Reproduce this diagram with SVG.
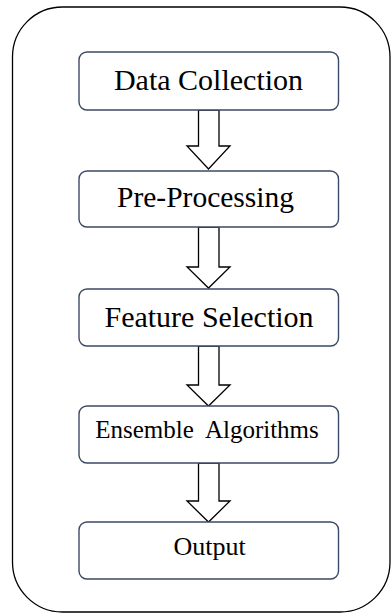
<svg xmlns="http://www.w3.org/2000/svg" width="391" height="615" viewBox="0 0 391 615">
<style>
.frame{fill:#fff;stroke:#000;stroke-width:1.3}
.box{fill:#fff;stroke:#3b4a66;stroke-width:1.4}
.arrow{fill:#fff;stroke:#000;stroke-width:1.3;stroke-linejoin:miter}
text{font-family:"Liberation Serif","Times New Roman",serif;fill:#000;text-anchor:middle}
</style>
<rect width="391" height="615" fill="#fff"/>
<rect class="frame" x="12.5" y="7" width="377.5" height="605" rx="50" ry="50"/>
<g id="connectors">
<polygon class="arrow" points="198.5,110 219,110 219,146 230,146 208.5,169 187,146 198.5,146"/>
<polygon class="arrow" points="198.5,227 219,227 219,267 230,267 208.5,288 187,267 198.5,267"/>
<polygon class="arrow" points="198.5,346 219,346 219,385 230,385 208.5,406 187,385 198.5,385"/>
<polygon class="arrow" points="198.5,463 219,463 219,501 230,501 208.5,522 187,501 198.5,501"/>
</g>
<g id="data-collection">
<rect class="box" x="79" y="52" width="259.5" height="58" rx="8"/>
<text x="208.5" y="90" font-size="30">Data Collection</text>
</g>
<g id="pre-processing">
<rect class="box" x="79" y="171" width="259.5" height="56" rx="8"/>
<text x="205.5" y="207" font-size="29.5">Pre-Processing</text>
</g>
<g id="feature-selection">
<rect class="box" x="79" y="289" width="259.5" height="57" rx="8"/>
<text x="209" y="327" font-size="30">Feature Selection</text>
</g>
<g id="ensemble-algorithms">
<rect class="box" x="79" y="406" width="259.5" height="57" rx="8"/>
<text x="207" y="438" font-size="25" xml:space="preserve" style="white-space:pre">Ensemble  Algorithms</text>
</g>
<g id="output">
<rect class="box" x="79" y="522" width="259.5" height="57" rx="8"/>
<text x="209.5" y="555" font-size="26">Output</text>
</g>
</svg>
